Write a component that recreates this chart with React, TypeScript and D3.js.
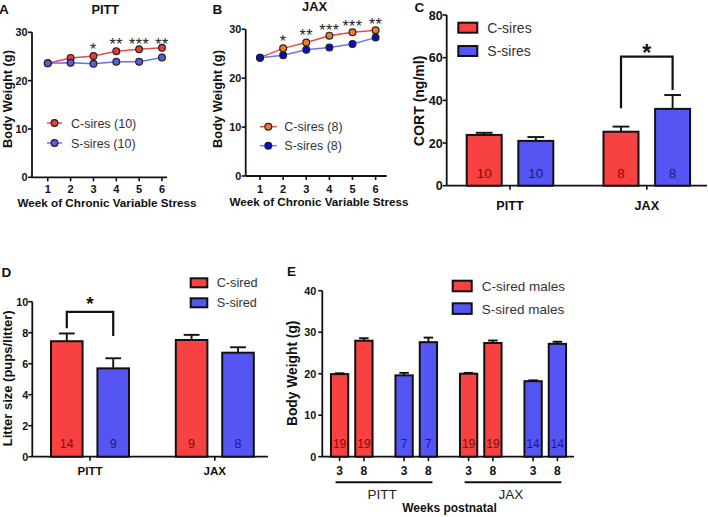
import React from "react";
import * as d3 from "d3";

const FONT = "'Liberation Sans', Arial, Helvetica, sans-serif";
const RED = "#f84242";
const BLUE = "#5555f4";
const RED_TXT = "#7a0d0d";
const BLUE_TXT = "#1c1c70";

// ---------- Panel A / B data (body weight during CVS) ----------
const weeks = [1, 2, 3, 4, 5, 6];
const pittC = [23.6, 24.7, 25.1, 26.1, 26.5, 26.8];
const pittS = [23.6, 23.7, 23.5, 23.9, 23.9, 24.8];
const pittStars = ["", "", "*", "**", "***", "**"];
const pittStarLevel = [0, 0, 27.2, 28.2, 28.2, 28.2];
const jaxC = [24.2, 26.1, 27.3, 28.7, 29.4, 29.8];
const jaxS = [24.2, 24.7, 25.8, 26.3, 27.0, 28.3];
const jaxStars = ["", "*", "**", "***", "***", "**"];
const jaxStarLevel = [0, 28.3, 29.4, 30.5, 31.3, 31.6];
const lineTicks = [0, 10, 20, 30];

// ---------- Panel C data (CORT) ----------
const sites = ["PITT", "JAX"];
const cortC = [23.8, 25.3];
const cortCsem = [1.0, 2.4];
const cortS = [21.0, 36.0];
const cortSsem = [1.8, 6.5];
const cortCn = ["10", "8"];
const cortSn = ["10", "8"];
const cortTicks = [0, 20, 40, 60, 80];

// ---------- Panel D data (litter size) ----------
const litC = [7.45, 7.53];
const litCsem = [0.5, 0.33];
const litS = [5.7, 6.71];
const litSsem = [0.65, 0.35];
const litCn = ["14", "9"];
const litSn = ["9", "8"];
const litTicks = [0, 2, 4, 6, 8, 10];

// ---------- Panel E data (offspring body weight) ----------
const eGroups = ["PITT-C", "PITT-S", "JAX-C", "JAX-S"];
const eWeeks = ["3", "8"];
const eMean = [
  [19.9, 27.95],
  [19.6, 27.6],
  [20.0, 27.4],
  [18.2, 27.2],
];
const eSem = [
  [0.2, 0.6],
  [0.6, 1.1],
  [0.2, 0.6],
  [0.2, 0.5],
];
const eN = [
  ["19", "19"],
  ["7", "7"],
  ["19", "19"],
  ["14", "14"],
];
const eTicks = [0, 10, 20, 30, 40];

type YAxisProps = {
  y: d3.ScaleLinear<number, number>;
  x: number;
  ticks: number[];
  fs: number;
  gap?: number;
};
function YAxis({ y, x, ticks, fs, gap = 4.5 }: YAxisProps) {
  const [d0, d1] = y.domain();
  return (
    <g>
      <line x1={x} x2={x} y1={y(d0)} y2={y(d1)} stroke="#111" strokeWidth={1.8} />
      {ticks.map((t) => (
        <g key={t}>
          <line x1={x - 4} x2={x} y1={y(t)} y2={y(t)} stroke="#111" strokeWidth={1.6} />
          <text
            x={x - gap}
            y={y(t) + fs * 0.36}
            textAnchor="end"
            fontSize={fs}
            fontWeight="bold"
            fontFamily={FONT}
            fill="#111"
          >
            {t}
          </text>
        </g>
      ))}
    </g>
  );
}

function VTitle({ x, y, text, fs }: { x: number; y: number; text: string; fs: number }) {
  return (
    <text
      transform={`translate(${x},${y}) rotate(-90)`}
      textAnchor="middle"
      fontSize={fs}
      fontWeight="bold"
      fontFamily={FONT}
      fill="#111"
    >
      {text}
    </text>
  );
}

function Label({
  x,
  y,
  text,
  fs,
  bold = false,
  anchor = "middle",
  fill = "#111",
}: {
  x: number;
  y: number;
  text: string;
  fs: number;
  bold?: boolean;
  anchor?: string;
  fill?: string;
}) {
  return (
    <text
      x={x}
      y={y}
      textAnchor={anchor as any}
      fontSize={fs}
      fontWeight={bold ? "bold" : "normal"}
      fontFamily={FONT}
      fill={fill}
    >
      {text}
    </text>
  );
}

type LinePanelProps = {
  x: d3.ScaleLinear<number, number>;
  y: d3.ScaleLinear<number, number>;
  c: number[];
  s: number[];
  stars: string[];
  starLevel: number[];
  cFill: string;
  sFill: string;
  cLine: string;
  sLine: string;
  tickLabelY: number;
};
function LinePanel({ x, y, c, s, stars, starLevel, cFill, sFill, cLine, sLine, tickLabelY }: LinePanelProps) {
  const line = d3
    .line<number>()
    .x((_, i) => x(weeks[i]))
    .y((d) => y(d));
  const [x0, x1] = x.domain();
  const y0 = y(0);
  return (
    <g>
      <YAxis y={y} x={x(x0)} ticks={lineTicks} fs={10.8} />
      <line x1={x(x0)} x2={x(x1)} y1={y0} y2={y0} stroke="#111" strokeWidth={1.8} />
      {weeks.map((w) => (
        <g key={w}>
          <line x1={x(w)} x2={x(w)} y1={y0} y2={y0 + 4} stroke="#111" strokeWidth={1.6} />
          <Label x={x(w)} y={tickLabelY} text={String(w)} fs={11} bold />
        </g>
      ))}
      <path d={line(c) || ""} fill="none" stroke={cLine} strokeWidth={1.5} />
      <path d={line(s) || ""} fill="none" stroke={sLine} strokeWidth={1.5} />
      {c.map((v, i) => (
        <circle key={"c" + i} cx={x(weeks[i])} cy={y(v)} r={3.4} fill={cFill} stroke="#222" strokeWidth={1.2} />
      ))}
      {s.map((v, i) => (
        <circle key={"s" + i} cx={x(weeks[i])} cy={y(v)} r={3.4} fill={sFill} stroke="#222" strokeWidth={1.2} />
      ))}
      {stars.map((st, i) =>
        st ? (
          <text
            key={"st" + i}
            x={x(weeks[i])}
            y={y(starLevel[i]) + 9}
            textAnchor="middle"
            fontSize={16}
            fontFamily={FONT}
            fill="#222"
            letterSpacing={0.5}
          >
            {st}
          </text>
        ) : null
      )}
    </g>
  );
}

function ErrBar({ cx, yTop, yErr, w }: { cx: number; yTop: number; yErr: number; w: number }) {
  return (
    <g stroke="#111" strokeWidth={1.9}>
      <line x1={cx} x2={cx} y1={yTop} y2={yErr} />
      <line x1={cx - w / 2} x2={cx + w / 2} y1={yErr} y2={yErr} />
    </g>
  );
}

function Bar({
  x0,
  w,
  yTop,
  yBase,
  fill,
}: {
  x0: number;
  w: number;
  yTop: number;
  yBase: number;
  fill: string;
}) {
  return <rect x={x0} y={yTop} width={w} height={yBase - yTop} fill={fill} stroke="#111" strokeWidth={2} />;
}

export default function App() {
  // ----- A -----
  const xA = d3.scaleLinear().domain([0.31, 6.22]).range([32, 167]);
  const yA = d3.scaleLinear().domain([0, 30]).range([177.3, 32.3]);
  // ----- B -----
  const xB = d3.scaleLinear().domain([0.38, 6.48]).range([245.7, 386.7]);
  const yB = d3.scaleLinear().domain([0, 30]).range([176, 29.3]);

  // ----- C -----
  const yC = d3.scaleLinear().domain([0, 80]).range([185.7, 15]);
  const xC = d3.scalePoint<string>().domain(sites).range([510, 646.8]);
  const subC = d3.scaleBand<string>().domain(["C", "S"]).range([-43.3, 43.3]).paddingInner(0.322);
  const cAxisX0 = 446.7;
  const cAxisX1 = 707;

  // ----- D -----
  const yD = d3.scaleLinear().domain([0, 10]).range([456.7, 301.7]);
  const xD = d3.scalePoint<string>().domain(sites).range([90, 214.8]);
  const subD = d3.scaleBand<string>().domain(["C", "S"]).range([-39, 39]).paddingInner(0.32);
  const dAxisX0 = 32.3;
  const dAxisX1 = 268;

  // ----- E -----
  const yE = d3.scaleLinear().domain([0, 40]).range([456.7, 290.7]);
  const xE = d3.scaleBand<string>().domain(eGroups).range([319.5, 577.5]);
  const subE = d3
    .scaleBand<string>()
    .domain(eWeeks)
    .range([0, xE.bandwidth()])
    .paddingInner(0.288)
    .paddingOuter(0.471);
  const eAxisX0 = 322.3;
  const eAxisX1 = 574;

  const cBw = subC.bandwidth();
  const dBw = subD.bandwidth();
  const eBw = subE.bandwidth();

  return (
    <svg
      width={708}
      height={517}
      viewBox="0 0 708 517"
      style={{ position: "absolute", left: 0, top: 0, background: "#fff" }}
    >
      <rect x={0} y={0} width={708} height={517} fill="#fff" />

      {/* ===== Panel A ===== */}
      <Label x={-1} y={14} text="A" fs={13.5} bold anchor="start" />
      <Label x={105.3} y={14} text="PITT" fs={12.8} bold />
      <VTitle x={11.5} y={99} text="Body Weight (g)" fs={12.8} />
      <LinePanel
        x={xA}
        y={yA}
        c={pittC}
        s={pittS}
        stars={pittStars}
        starLevel={pittStarLevel}
        cFill="#e53c3c"
        sFill="#5a5ae0"
        cLine="#e84a4a"
        sLine="#6e6ee8"
        tickLabelY={193.3}
      />
      <Label x={107} y={206.7} text="Week of Chronic Variable Stress" fs={11.7} bold />
      {/* legend A */}
      <line x1={47} x2={62} y1={123} y2={123} stroke="#e84a4a" strokeWidth={1.5} />
      <circle cx={54.5} cy={123} r={3.4} fill="#e53c3c" stroke="#222" strokeWidth={1.2} />
      <Label x={71} y={127.5} text="C-sires (10)" fs={12.5} anchor="start" fill="#333" />
      <line x1={47} x2={62} y1={143} y2={143} stroke="#6e6ee8" strokeWidth={1.5} />
      <circle cx={54.5} cy={143} r={3.4} fill="#5a5ae0" stroke="#222" strokeWidth={1.2} />
      <Label x={71} y={147.5} text="S-sires (10)" fs={12.5} anchor="start" fill="#333" />

      {/* ===== Panel B ===== */}
      <Label x={212.5} y={14} text="B" fs={13.5} bold anchor="start" />
      <Label x={314.5} y={11} text="JAX" fs={12.8} bold />
      <VTitle x={222} y={99} text="Body Weight (g)" fs={12.8} />
      <LinePanel
        x={xB}
        y={yB}
        c={jaxC}
        s={jaxS}
        stars={jaxStars}
        starLevel={jaxStarLevel}
        cFill="#f07a2a"
        sFill="#0b0bcf"
        cLine="#e84a4a"
        sLine="#7272ee"
        tickLabelY={192.7}
      />
      <Label x={319} y={206} text="Week of Chronic Variable Stress" fs={11.7} bold />
      <line x1={260} x2={276.7} y1={126.7} y2={126.7} stroke="#e84a4a" strokeWidth={1.5} />
      <circle cx={268.3} cy={126.7} r={3.4} fill="#f07a2a" stroke="#222" strokeWidth={1.2} />
      <Label x={284.3} y={131.2} text="C-sires (8)" fs={12.5} anchor="start" fill="#333" />
      <line x1={260} x2={276.7} y1={145.7} y2={145.7} stroke="#7272ee" strokeWidth={1.5} />
      <circle cx={268.3} cy={145.7} r={3.4} fill="#0b0bcf" stroke="#222" strokeWidth={1.2} />
      <Label x={284.3} y={150.2} text="S-sires (8)" fs={12.5} anchor="start" fill="#333" />

      {/* ===== Panel C ===== */}
      <Label x={414.5} y={12} text="C" fs={13.5} bold anchor="start" />
      <VTitle x={424} y={100.8} text="CORT (ng/ml)" fs={14} />
      <YAxis y={yC} x={cAxisX0} ticks={cortTicks} fs={12.6} gap={4} />
      <line x1={cAxisX0} x2={cAxisX1} y1={yC(0)} y2={yC(0)} stroke="#111" strokeWidth={1.8} />
      {sites.map((s, i) => {
        const cx = xC(s)!;
        const xc0 = cx + subC("C")!;
        const xs0 = cx + subC("S")!;
        return (
          <g key={s}>
            <line x1={cx} x2={cx} y1={yC(0)} y2={yC(0) + 4} stroke="#111" strokeWidth={1.6} />
            <ErrBar cx={xc0 + cBw / 2} yTop={yC(cortC[i])} yErr={yC(cortC[i] + cortCsem[i])} w={cBw * 0.48} />
            <ErrBar cx={xs0 + cBw / 2} yTop={yC(cortS[i])} yErr={yC(cortS[i] + cortSsem[i])} w={cBw * 0.48} />
            <Bar x0={xc0} w={cBw} yTop={yC(cortC[i])} yBase={yC(0)} fill={RED} />
            <Bar x0={xs0} w={cBw} yTop={yC(cortS[i])} yBase={yC(0)} fill={BLUE} />
            <Label x={xc0 + cBw / 2} y={178.3} text={cortCn[i]} fs={13.5} fill={RED_TXT} />
            <Label x={xs0 + cBw / 2} y={178.3} text={cortSn[i]} fs={13.5} fill={BLUE_TXT} />
            <Label x={cx} y={210} text={s} fs={12.6} bold />
          </g>
        );
      })}
      {/* bracket C (JAX) */}
      {(() => {
        const cx = xC("JAX")!;
        const l = cx + subC("C")! + cBw / 2;
        const r = cx + subC("S")! + cBw / 2;
        const top = yC(60.5);
        return (
          <g>
            <path
              d={`M${l},${yC(36.3)}V${top}H${r}V${yC(44.9)}`}
              fill="none"
              stroke="#111"
              strokeWidth={2.2}
            />
            <text x={(l + r) / 2} y={top + 4} textAnchor="middle" fontSize={23} fontWeight="bold" fontFamily={FONT} fill="#111">
              *
            </text>
          </g>
        );
      })()}
      {/* legend C */}
      <rect x={458.3} y={22.7} width={19} height={10} fill={RED} stroke="#111" strokeWidth={2} />
      <Label x={487.3} y={32.5} text="C-sires" fs={14} anchor="start" fill="#333" />
      <rect x={458.3} y={46} width={19} height={10} fill={BLUE} stroke="#111" strokeWidth={2} />
      <Label x={487.3} y={55.8} text="S-sires" fs={14} anchor="start" fill="#333" />

      {/* ===== Panel D ===== */}
      <Label x={1.5} y={277.3} text="D" fs={13.5} bold anchor="start" />
      <VTitle x={11.5} y={378.3} text="Litter size (pups/litter)" fs={13} />
      <YAxis y={yD} x={dAxisX0} ticks={litTicks} fs={10.8} gap={4} />
      <line x1={dAxisX0} x2={dAxisX1} y1={yD(0)} y2={yD(0)} stroke="#111" strokeWidth={1.8} />
      {sites.map((s, i) => {
        const cx = xD(s)!;
        const xc0 = cx + subD("C")!;
        const xs0 = cx + subD("S")!;
        return (
          <g key={s}>
            <line x1={cx} x2={cx} y1={yD(0)} y2={yD(0) + 4} stroke="#111" strokeWidth={1.6} />
            <ErrBar cx={xc0 + dBw / 2} yTop={yD(litC[i])} yErr={yD(litC[i] + litCsem[i])} w={dBw * 0.5} />
            <ErrBar cx={xs0 + dBw / 2} yTop={yD(litS[i])} yErr={yD(litS[i] + litSsem[i])} w={dBw * 0.5} />
            <Bar x0={xc0} w={dBw} yTop={yD(litC[i])} yBase={yD(0)} fill={RED} />
            <Bar x0={xs0} w={dBw} yTop={yD(litS[i])} yBase={yD(0)} fill={BLUE} />
            <Label x={xc0 + dBw / 2} y={448.3} text={litCn[i]} fs={12.5} fill={RED_TXT} />
            <Label x={xs0 + dBw / 2} y={448.3} text={litSn[i]} fs={12.5} fill={BLUE_TXT} />
            <Label x={cx} y={475} text={s} fs={11.6} bold />
          </g>
        );
      })}
      {(() => {
        const cx = xD("PITT")!;
        const l = cx + subD("C")! + dBw / 2;
        const r = cx + subD("S")! + dBw / 2;
        const top = yD(9.35);
        return (
          <g>
            <path
              d={`M${l},${yD(8.28)}V${top}H${r}V${yD(7.79)}`}
              fill="none"
              stroke="#111"
              strokeWidth={2.2}
            />
            <text x={(l + r) / 2} y={top - 1.5} textAnchor="middle" fontSize={19} fontWeight="bold" fontFamily={FONT} fill="#111">
              *
            </text>
          </g>
        );
      })()}
      <rect x={190.7} y={278.3} width={16.6} height={9} fill={RED} stroke="#111" strokeWidth={2} />
      <Label x={216.7} y={287.4} text="C-sired" fs={12.7} anchor="start" fill="#333" />
      <rect x={190.7} y={298.3} width={16.6} height={9} fill={BLUE} stroke="#111" strokeWidth={2} />
      <Label x={216.7} y={307.4} text="S-sired" fs={12.7} anchor="start" fill="#333" />

      {/* ===== Panel E ===== */}
      <Label x={287} y={275.7} text="E" fs={13.5} bold anchor="start" />
      <VTitle x={296.5} y={373.3} text="Body Weight (g)" fs={13.8} />
      <YAxis y={yE} x={eAxisX0} ticks={eTicks} fs={10.8} gap={6} />
      <line x1={eAxisX0} x2={eAxisX1} y1={yE(0)} y2={yE(0)} stroke="#111" strokeWidth={1.8} />
      {eGroups.map((g, gi) => {
        const isC = g.endsWith("C");
        return (
          <g key={g}>
            {eWeeks.map((wk, wi) => {
              const x0 = xE(g)! + subE(wk)!;
              const cx = x0 + eBw / 2;
              const v = eMean[gi][wi];
              return (
                <g key={wk}>
                  <line x1={cx} x2={cx} y1={yE(0)} y2={yE(0) + 4.5} stroke="#111" strokeWidth={1.6} />
                  <ErrBar cx={cx} yTop={yE(v)} yErr={yE(v + eSem[gi][wi])} w={eBw * 0.55} />
                  <Bar x0={x0} w={eBw} yTop={yE(v)} yBase={yE(0)} fill={isC ? RED : BLUE} />
                  <Label x={cx} y={447.8} text={eN[gi][wi]} fs={12} fill={isC ? RED_TXT : BLUE_TXT} />
                  <Label x={cx} y={474.5} text={wk} fs={12} bold />
                </g>
              );
            })}
          </g>
        );
      })}
      {sites.map((s, si) => {
        const gA = eGroups[si * 2];
        const gB = eGroups[si * 2 + 1];
        const l = xE(gA)! + subE("3")! + eBw / 2 - 4;
        const r = xE(gB)! + subE("8")! + eBw / 2 + 4;
        return (
          <g key={s}>
            <line x1={l} x2={r} y1={482.3} y2={482.3} stroke="#111" strokeWidth={2} />
            <Label x={(l + r) / 2 - 2} y={499.3} text={s} fs={13.5} fill="#222" />
          </g>
        );
      })}
      <Label x={449.5} y={512} text="Weeks postnatal" fs={12} bold />
      <rect x={452.7} y={280.7} width={19} height={10.6} fill={RED} stroke="#111" strokeWidth={2} />
      <Label x={481.7} y={290.8} text="C-sired males" fs={13.5} anchor="start" fill="#333" />
      <rect x={452.7} y={303.3} width={19} height={10.6} fill={BLUE} stroke="#111" strokeWidth={2} />
      <Label x={481.7} y={313.5} text="S-sired males" fs={13.5} anchor="start" fill="#333" />
    </svg>
  );
}
